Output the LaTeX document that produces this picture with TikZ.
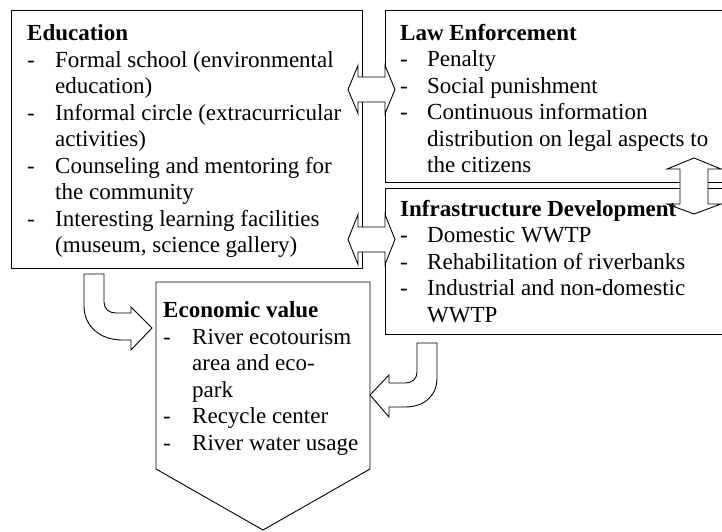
\documentclass[tikz,border=0pt]{standalone}
\usepackage{fontspec}
\setmainfont{Liberation Serif}
\begin{document}
\begin{tikzpicture}[x=1pt,y=-1pt,
  box/.style={draw=black, line width=0.9pt, fill=white, rectangle, inner sep=0pt, outer sep=0pt, anchor=north west},
  arr/.style={draw=black, line width=0.9pt, fill=white, line join=miter},
  txt/.style={anchor=base west, inner sep=0pt, font=\fontsize{23}{26.5}\selectfont},
  hd/.style={anchor=base west, inner sep=0pt, font=\fontsize{23}{26.5}\selectfont\bfseries}]
\useasboundingbox (0,0) rectangle (722,531);
\clip (0,0) rectangle (722,531);
% boxes
\node[box, minimum width=351pt, minimum height=258pt] (edu) at (11,10) {};
\node[box, minimum width=345pt, minimum height=172pt] (law) at (385,10) {};
\node[box, minimum width=345pt, minimum height=146pt] (infra) at (385,188) {};
\draw[arr] (156,282) -- (370,282) -- (370,469) -- (263,530) -- (156,469) -- cycle;
% double arrows
\draw[arr] (348,89.5) -- (358,65.5) -- (358,77) -- (385,77) -- (385,65.5) -- (395,89.5)
  -- (385,113.5) -- (385,102) -- (358,102) -- (358,113.5) -- cycle;
\draw[arr] (348,239.5) -- (358,214.5) -- (358,227) -- (385,227) -- (385,214.5) -- (395,239.5)
  -- (385,264.5) -- (385,252) -- (358,252) -- (358,264.5) -- cycle;
\draw[arr] (694,158) -- (721,169) -- (708,169) -- (708,204) -- (721,204) -- (694,214)
  -- (667,204) -- (680,204) -- (680,169) -- (667,169) -- cycle;
% bent arrows
\draw[arr] (84,274) -- (84,306) .. controls (84,326) and (100,340) .. (122,340) -- (131,340)
  -- (131,350) -- (152,328) -- (131,307) -- (131,313) -- (116,313)
  .. controls (109,313) and (104,309) .. (104,302) -- (104,274) -- cycle;
\draw[arr] (437,343) -- (437,378) .. controls (437,396) and (424,407) .. (405,407) -- (389,407)
  -- (389,417) -- (370,395) -- (389,375) -- (389,383) -- (405,383)
  .. controls (412,383) and (417,379) .. (417,372) -- (417,343) -- cycle;
% Education text
\node[hd] (eduh) at (27,40.5) {Education};
\node[txt] (edud1) at (27,67) {-};
\node[txt] (edu1a) at (55,67) {Formal school (environmental};
\node[txt] (edu1b) at (55,93.5) {education)};
\node[txt] (edud2) at (27,120) {-};
\node[txt] (edu2a) at (55,120) {Informal circle (extracurricular};
\node[txt] (edu2b) at (55,146.5) {activities)};
\node[txt] (edud3) at (27,173) {-};
\node[txt] (edu3a) at (55,173) {Counseling and mentoring for};
\node[txt] (edu3b) at (55,199.5) {the community};
\node[txt] (edud4) at (27,226) {-};
\node[txt] (edu4a) at (55,226) {Interesting learning facilities};
\node[txt] (edu4b) at (55,252.5) {(museum, science gallery)};
% Law text
\node[hd] (lawh) at (400,40) {Law Enforcement};
\node[txt] (lawd1) at (400,66.5) {-};
\node[txt] (law1) at (427,66.5) {Penalty};
\node[txt] (lawd2) at (400,93) {-};
\node[txt] (law2) at (427,93) {Social punishment};
\node[txt] (lawd3) at (400,119.5) {-};
\node[txt] (law3a) at (427,119.5) {Continuous information};
\node[txt] (law3b) at (427,146) {distribution on legal aspects to};
\node[txt] (law3c) at (427,172.5) {the citizens};
% Infrastructure text
\node[hd] (infh) at (400,216) {Infrastructure Development};
\node[txt] (infd1) at (400,242.5) {-};
\node[txt] (inf1) at (427,242.5) {Domestic WWTP};
\node[txt] (infd2) at (400,269) {-};
\node[txt] (inf2) at (427,269) {Rehabilitation of riverbanks};
\node[txt] (infd3) at (400,295.5) {-};
\node[txt] (inf3a) at (427,295.5) {Industrial and non-domestic};
\node[txt] (inf3b) at (427,322) {WWTP};
% Economic text
\node[hd] (ecoh) at (163,317.5) {Economic value};
\node[txt] (ecod1) at (163,344) {-};
\node[txt] (eco1a) at (192,344) {River ecotourism};
\node[txt] (eco1b) at (192,370.5) {area and eco-};
\node[txt] (eco1c) at (192,397) {park};
\node[txt] (ecod2) at (163,423.5) {-};
\node[txt] (eco2) at (192,423.5) {Recycle center};
\node[txt] (ecod3) at (163,450) {-};
\node[txt] (eco3) at (192,450) {River water usage};
\end{tikzpicture}
\end{document}
